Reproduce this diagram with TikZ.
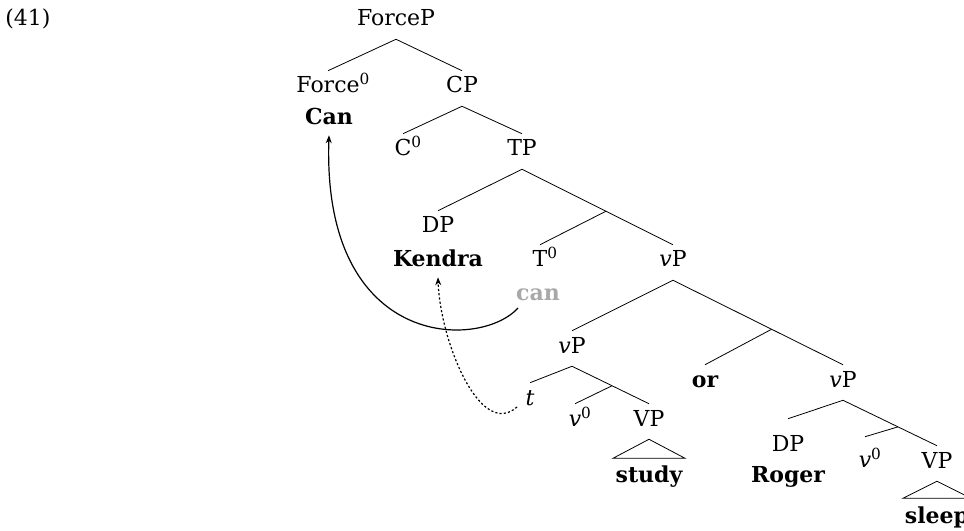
\documentclass[tikz,border=0pt]{standalone}
\usepackage{fontspec}
\setmainfont{DejaVu Serif}
\usetikzlibrary{calc,arrows.meta}
\definecolor{tracegray}{gray}{0.66}
\newcommand{\headzero}[1]{#1\rlap{\raisebox{6pt}{\fontsize{11.5}{12}\mdseries\upshape 0}}}
\newcommand{\littlev}{\textit{v}}
\tikzset{
  treefont/.style={font=\fontsize{16.5}{20}\selectfont},
  lbl/.style={treefont, inner sep=0pt, anchor=base, text height=16.5pt, text depth=9.75pt},
  word/.style={inner sep=0pt, anchor=base, text depth=7.5pt, font=\fontsize{16.5}{20}\selectfont\bfseries},
  branch/.style={line width=0.6pt},
  move/.style={line width=0.9pt, -{Stealth[length=6pt,width=4.5pt]}},
  tracemove/.style={move, dash pattern=on 1.6pt off 1.6pt}
}
\begin{document}
\begin{tikzpicture}[x=0.75pt,y=-0.75pt]
\useasboundingbox (0,0) rectangle (964,531);

% example number
\node[treefont, inner sep=0pt, anchor=base west] (exnum) at (5,26) {(41)};

% labels
\node[lbl] (ForceP) at (396,26) {ForceP};
\node[lbl] (Force)  at (328,93) {\headzero{Force}};
\node[lbl] (CP)     at (462,93) {CP};
\node[word] (Can)   at (329,125) {Can};
\node[lbl] (C)      at (403,156) {\headzero{C}};
\node[lbl] (TP)     at (522,156) {TP};
\node[lbl] (DP)     at (438,233) {DP};
\node[word] (Kendra) at (438,267) {Kendra};
\node[lbl] (T)      at (540,267) {\headzero{T}};
\node[word, text=tracegray] (can) at (538,300) {can};
\node[lbl] (vP)     at (673,267) {\littlev P};
\node[lbl] (vPa)    at (572,353) {\littlev P};
\node[lbl, font=\fontsize{16.5}{20}\selectfont\bfseries] (or) at (705,387) {or};
\node[lbl] (vPb)    at (843,387) {\littlev P};
\node[lbl] (t)      at (530,405) {\textit{t}};
\node[lbl] (va)     at (575,426) {\headzero{\littlev}};
\node[lbl] (VPa)    at (649,426) {VP};
\node[word] (study) at (649,482) {study};
\node[lbl, text height=24pt] (DPb) at (788,451) {DP};
\node[word] (Roger) at (788,482) {Roger};
\node[lbl, text height=22.5pt] (vb) at (865,467) {\headzero{\littlev}};
\node[lbl] (VPb)    at (937,468) {VP};
\node[word] (sleep) at (937,523) {sleep};

% intermediate branching points
\coordinate (Tbar)  at ($(TP.south)!0.556!(vP.north)$);
\coordinate (orbar) at ($(vP.south)!0.58!(vPb.north)$);
\coordinate (vbara) at ($(vPa.south)!0.52!(VPa.north)$);
\coordinate (vbarb) at ($(vPb.south)!0.585!(VPb.north)$);

% branches
\draw[branch] (Force.north) -- (ForceP.south) -- (CP.north);
\draw[branch] (C.north) -- (CP.south) -- (TP.north);
\draw[branch] (DP.north) -- (TP.south) -- (Tbar) -- (vP.north);
\draw[branch] (Tbar) -- (T.north);
\draw[branch] (vPa.north) -- (vP.south) -- (orbar) -- (vPb.north);
\draw[branch] (orbar) -- (or.north);
\draw[branch] (t.north) -- (vPa.south) -- (vbara) -- (VPa.north);
\draw[branch] (vbara) -- (va.north);
\draw[branch] (DPb.north) -- (vPb.south) -- (vbarb) -- (VPb.north);
\draw[branch] (vbarb) -- (vb.north);

% roofs
\draw[branch] (VPa.south) -- ++(-36,19) -- ++(72,0) -- cycle;
\draw[branch] (VPb.south) -- ++(-34,17) -- ++(68,0) -- cycle;

% movement
\draw[move] ([shift={(-20,8)}]can.base) .. controls +(-38,42) and +(-7,215) .. (Can.south);
\draw[tracemove] ([shift={(-13,2)}]t.base) .. controls +(-37,33) and +(2,63) .. (Kendra.south);
\end{tikzpicture}
\end{document}
